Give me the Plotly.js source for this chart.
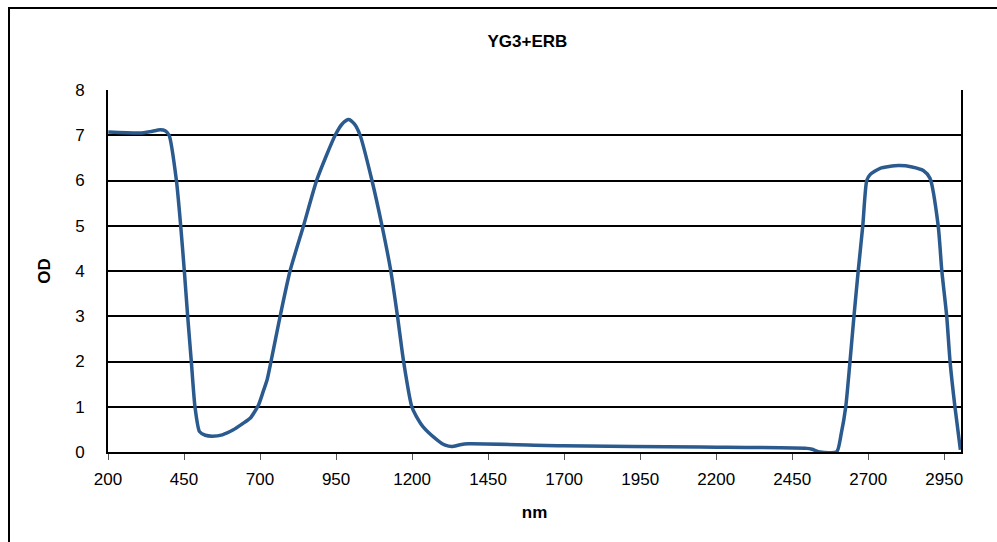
<!DOCTYPE html>
<html>
<head>
<meta charset="utf-8">
<script src="https://cdn.plot.ly/plotly-3.0.1.min.js"></script>
<style>
  html, body { margin: 0; padding: 0; background: #fff; }
  #wrap { position: relative; width: 997px; height: 542px; }
  #chart { width: 997px; height: 542px; }
  #frame { position: absolute; left: 8px; top: 7px; width: 1000px; height: 600px;
           border-left: 2px solid #000; border-top: 2px solid #000; pointer-events: none; }
</style>
</head>
<body>
<div id="wrap">
  <div id="chart"></div>
  <div id="frame"></div>
</div>
<script>
const chartTitle = "YG3+ERB";
const xTitle = "nm";
const yTitle = "OD";
const xTicks = [200, 450, 700, 950, 1200, 1450, 1700, 1950, 2200, 2450, 2700, 2950];
const yTicks = [0, 1, 2, 3, 4, 5, 6, 7, 8];

const wavelength = [201, 306, 339, 372, 388, 401, 425, 439, 451, 462, 474, 486, 501, 520, 542, 576, 612, 641, 668, 695, 711, 723, 736, 766, 799, 843, 887, 947, 970, 991, 1010, 1029, 1068, 1101, 1130, 1152, 1172, 1199, 1213, 1237, 1282, 1309, 1331, 1358, 1385, 1697, 2147, 2498, 2515, 2542, 2596, 2611, 2626, 2640, 2653, 2667, 2682, 2695, 2706, 2739, 2799, 2844, 2881, 2903, 2930, 2942, 2958, 2969, 2985, 3003];
const od = [7.07, 7.05, 7.08, 7.12, 7.10, 7.0, 6.0, 5.0, 4.0, 3.0, 2.0, 1.0, 0.45, 0.37, 0.35, 0.38, 0.49, 0.62, 0.75, 1.04, 1.35, 1.59, 2.0, 3.0, 4.01, 5.0, 6.02, 7.0, 7.25, 7.35, 7.25, 7.0, 6.0, 5.0, 4.0, 3.0, 2.0, 1.0, 0.8, 0.55, 0.27, 0.15, 0.12, 0.16, 0.18, 0.14, 0.11, 0.08, 0.06, 0.0, 0.0, 0.4, 1.0, 2.0, 3.0, 4.0, 5.0, 6.0, 6.13, 6.27, 6.33, 6.3, 6.22, 6.05, 5.0, 4.0, 3.0, 2.0, 1.0, 0.05];

const font = "Liberation Sans, Arial, sans-serif";

Plotly.newPlot("chart", [{
  x: wavelength,
  y: od,
  type: "scatter",
  mode: "lines",
  line: { color: "#2a5a8e", width: 3.5, shape: "spline", smoothing: 0.6 },
  hoverinfo: "x+y"
}], {
  width: 997, height: 542,
  margin: { l: 108, r: 36, t: 90, b: 90 },
  paper_bgcolor: "#ffffff",
  plot_bgcolor: "#ffffff",
  showlegend: false,
  font: { family: font, color: "#000" },
  title: { text: "<b>" + chartTitle + "</b>", font: { family: font, size: 17, color: "#000" }, x: 0.529, xanchor: "center", y: 0.925, yanchor: "middle" },
  xaxis: {
    range: [200, 3005],
    tickmode: "array", tickvals: xTicks, ticktext: xTicks.map(String),
    ticks: "outside", ticklen: 6, tickwidth: 1, tickcolor: "#555",
    tickfont: { family: font, size: 17, color: "#000" },
    ticklabelstandoff: 5,
    showline: true, linecolor: "#000", linewidth: 2,
    showgrid: false, zeroline: false,
    title: { text: "<b>" + xTitle + "</b>", font: { family: font, size: 17, color: "#000" }, standoff: 18 }
  },
  yaxis: {
    range: [0, 8],
    tickmode: "array", tickvals: yTicks, ticktext: yTicks.map(String),
    ticks: "",
    tickfont: { family: font, size: 17, color: "#000" },
    ticklabelstandoff: 18,
    showline: true, mirror: true, linecolor: "#000", linewidth: 2,
    showgrid: true, gridcolor: "#000", gridwidth: 2,
    zeroline: false,
    title: { text: "<b>" + yTitle + "</b>", font: { family: font, size: 17, color: "#000" }, standoff: 20 }
  }
}, { displayModeBar: false, staticPlot: true });
</script>
</body>
</html>
